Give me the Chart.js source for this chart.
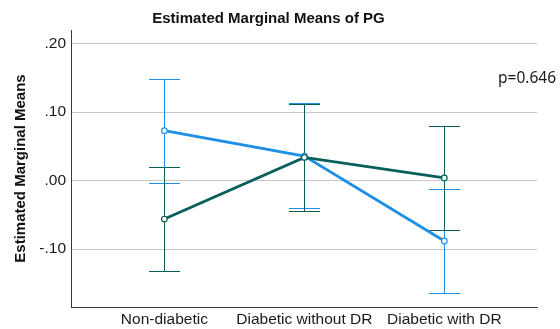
<!DOCTYPE html>
<html>
<head>
<meta charset="utf-8">
<title>Estimated Marginal Means of PG</title>
<script src="https://cdn.jsdelivr.net/npm/chart.js@4/dist/chart.umd.min.js"></script>
<style>
  html, body { margin: 0; padding: 0; background: #fff; }
  #wrap { width: 560px; height: 329px; }
</style>
</head>
<body>
<div id="wrap"><canvas id="emm" width="560" height="329"></canvas></div>
<script>
/* ---------- data ---------- */
const categories  = ['Non-diabetic', 'Diabetic without DR', 'Diabetic with DR'];
const yTickValues = [0.2, 0.1, 0, -0.1];
const yTickLabels = ['.20', '.10', '.00', '-.10'];

// series drawn in blue
const blueMeans = [0.073, 0.036, -0.088];
const blueLower = [-0.004, -0.040, -0.164];
const blueUpper = [0.148, 0.114, -0.012];

// series drawn in dark green
const greenMeans = [-0.056, 0.034, 0.004];
const greenLower = [-0.132, -0.044, -0.072];
const greenUpper = [0.020, 0.112, 0.080];

const pValueText = 'p=0.646';

/* ---------- style ---------- */
const BLUE  = '#1e8fe6';
const GREEN = '#075f59';
const FONT  = "'Liberation Sans', Arial, sans-serif";

const toPoints = arr => arr.map((v, i) => ({ x: i, y: v }));

/* error bars, drawn through the scales before the lines */
const errorBars = {
  id: 'errorBars',
  beforeDatasetsDraw(chart) {
    const { ctx, scales: { x, y } } = chart;
    const groups = [
      { lo: blueLower,  hi: blueUpper,  color: BLUE },
      { lo: greenLower, hi: greenUpper, color: GREEN }
    ];
    ctx.save();
    ctx.lineWidth = 1;
    groups.forEach(g => {
      ctx.strokeStyle = g.color;
      g.lo.forEach((lo, i) => {
        const px  = Math.round(x.getPixelForValue(i)) + 0.5;
        const top = Math.round(y.getPixelForValue(g.hi[i])) + 0.5;
        const bot = Math.round(y.getPixelForValue(lo)) + 0.5;
        ctx.beginPath();
        ctx.moveTo(px, top); ctx.lineTo(px, bot);
        ctx.moveTo(px - 15.5, top); ctx.lineTo(px + 15.5, top);
        ctx.moveTo(px - 15.5, bot); ctx.lineTo(px + 15.5, bot);
        ctx.stroke();
      });
    });
    ctx.restore();
  }
};

/* p-value note at the right */
const pNote = {
  id: 'pNote',
  afterDraw(chart) {
    const { ctx } = chart;
    ctx.save();
    ctx.font = "15.5px 'Noto Sans', 'Open Sans', sans-serif";
    ctx.fillStyle = '#1a1a1a';
    ctx.textAlign = 'left';
    ctx.textBaseline = 'middle';
    ctx.fillText(pValueText, 498, 79);
    ctx.restore();
  }
};

new Chart(document.getElementById('emm'), {
  type: 'line',
  data: {
    datasets: [
      {
        label: 'Group 2',
        data: toPoints(greenMeans),
        borderColor: GREEN,
        borderWidth: 2.8,
        pointRadius: 2.8,
        pointBorderWidth: 1.2,
        pointBorderColor: GREEN,
        pointBackgroundColor: '#ffffff',
        tension: 0
      },
      {
        label: 'Group 1',
        data: toPoints(blueMeans),
        borderColor: BLUE,
        borderWidth: 2.8,
        pointRadius: 2.8,
        pointBorderWidth: 1.2,
        pointBorderColor: BLUE,
        pointBackgroundColor: '#ffffff',
        tension: 0
      }
    ]
  },
  options: {
    responsive: false,
    animation: false,
    layout: { padding: { left: 0, right: 23, top: 0, bottom: 0 } },
    plugins: {
      legend: { display: false },
      tooltip: { enabled: false },
      title: {
        display: true,
        text: 'Estimated Marginal Means of PG',
        color: '#111',
        font: { family: FONT, size: 15, weight: 'bold', lineHeight: 1.2 },
        padding: { top: 10, bottom: 2 }
      }
    },
    scales: {
      x: {
        type: 'linear',
        min: -0.667,
        max: 2.662,
        afterBuildTicks: s => { s.ticks = categories.map((c, i) => ({ value: i })); },
        afterFit: s => { s.height = 22; },
        ticks: {
          callback: v => categories[v],
          color: '#1a1a1a',
          padding: 3,
          maxRotation: 0,
          autoSkip: false,
          font: { family: FONT, size: 15.5 }
        },
        grid: { display: false, drawTicks: false },
        border: { display: true, color: '#3a3a3a', width: 1 }
      },
      y: {
        min: -0.1844,
        max: 0.22,
        afterBuildTicks: s => { s.ticks = yTickValues.map(v => ({ value: v })); },
        afterFit: s => { s.width = 71; },
        ticks: {
          callback: (v, i) => yTickLabels[i],
          color: '#1a1a1a',
          padding: 5,
          font: { family: FONT, size: 15.5 }
        },
        grid: { color: '#c6c6c6', lineWidth: 1, drawTicks: false },
        border: { display: true, color: '#3a3a3a', width: 1 },
        title: {
          display: true,
          text: 'Estimated Marginal Means',
          color: '#111',
          font: { family: FONT, size: 15, weight: 'bold', lineHeight: 1.2 },
          padding: { top: 12, bottom: 0 }
        }
      }
    }
  },
  plugins: [errorBars, pNote]
});
</script>
</body>
</html>
